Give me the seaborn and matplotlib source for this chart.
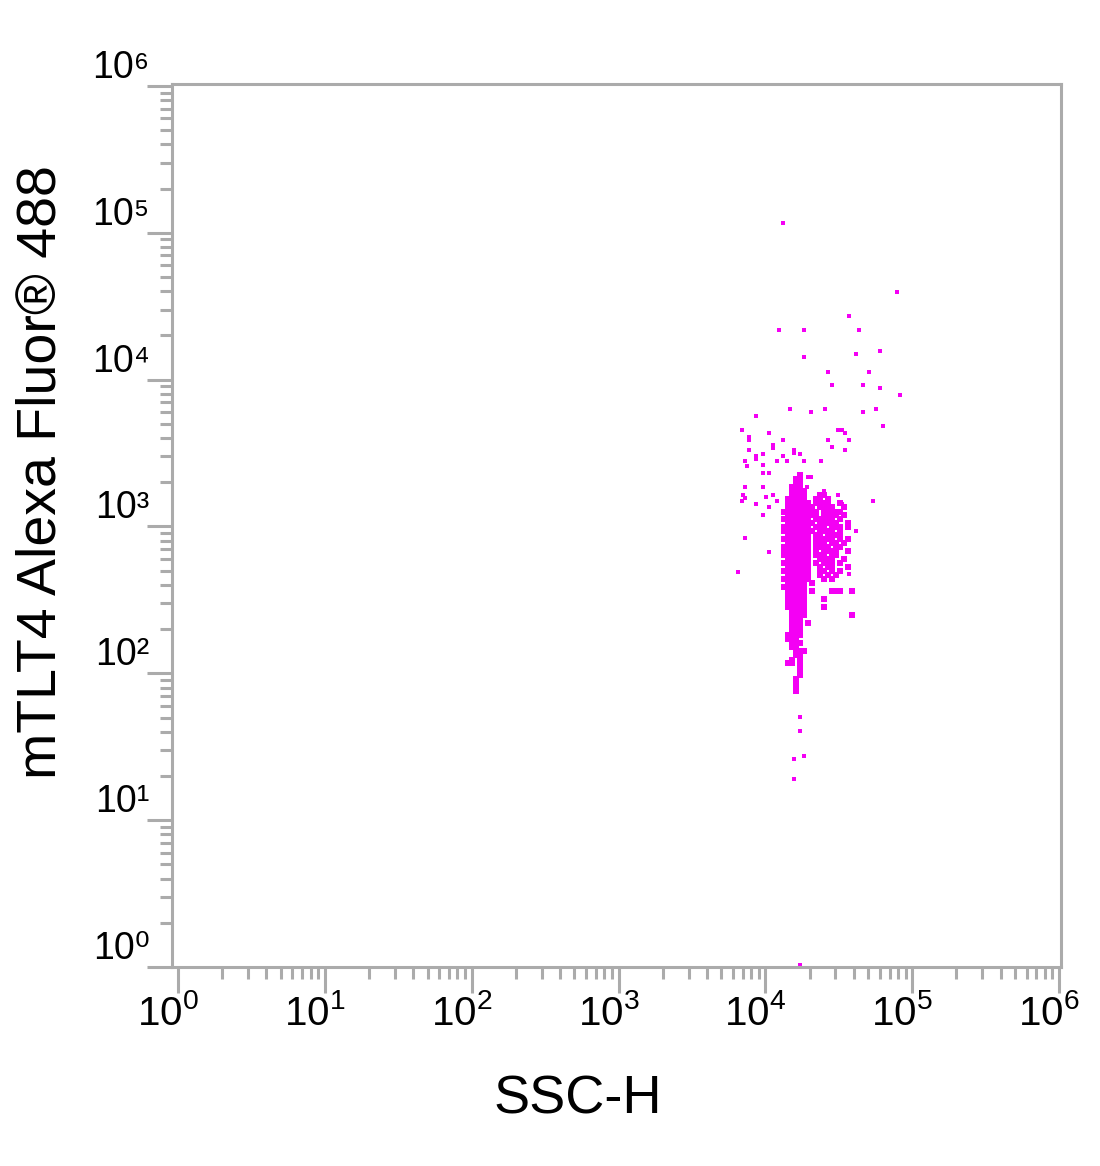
import numpy as np
import pandas as pd
import matplotlib
matplotlib.use('Agg')
import matplotlib.pyplot as plt
from matplotlib.ticker import LogLocator, NullFormatter
from matplotlib.transforms import ScaledTranslation
import seaborn as sns

# scattered single events (SSC-H, mTLT4 AF488)
sparse_ssc = [13220, 79050, 37230, 12420, 18380, 43550, 60530, 18380, 41540, 26780,
              50960, 28510, 46380, 60530, 82830, 14750, 20510, 25530, 46380, 56850,
              8650, 63450, 6950, 10620, 31330, 33350, 34960, 7755, 7755, 13220,
              26780, 37230, 11300, 11300, 28510, 7755, 15710, 15710, 17260, 34960,
              9660, 8650, 8650, 13220, 7280, 12030, 14080, 18380, 23990, 7515,
              9660, 9660, 10620, 19570, 20510, 7280, 9660, 19260, 25150, 31330,
              7060, 10130, 11300, 7280, 6950, 12030, 54240, 33350, 8650, 10620,
              9660, 7280, 10620, 13220, 6530, 41540, 37230, 17260, 17260, 18380,
              15710, 15710, 17260]
sparse_fl = [117000, 39700, 27240, 21880, 21880, 21880, 15750, 14330, 15030, 11330,
             11330, 9245, 9245, 8830, 7910, 6350, 6060, 6350, 6060, 6350,
             5690, 4865, 4570, 4360, 4570, 4570, 4360, 4095, 3908, 3908,
             3908, 3908, 3613, 3446, 3502, 3340, 3340, 3187, 3138, 3340,
             3138, 2995, 2857, 2995, 2812, 2812, 2812, 2812, 2812, 2560,
             2640, 2294, 2294, 2188, 2188, 1842, 1842, 1842, 1730, 1650,
             1650, 1575, 1650, 1550, 1480, 1480, 1480, 1412, 1412, 1346,
             1188, 829, 666, 666, 486, 925, 471, 50.2, 40.3, 27.2,
             26.0, 19.0, 1.03]

# dense population: bin centres and occupied bins ('#' = event)
dense_ssc = [13430, 14300, 15220, 16210, 17260, 18380, 19570, 20840, 22180,
             23620, 25150, 26780, 28510, 30360, 32320, 34420, 36640, 39020]
dense_fl = [2223, 2089, 1963, 1842, 1730, 1625, 1527, 1433, 1346, 1264,
            1188, 1116, 1048, 984, 925, 868, 816, 766, 720, 676,
            635, 597, 560, 526, 494, 464, 436, 410, 385, 361,
            340, 319, 299, 281, 264, 248, 233, 219, 206, 193,
            181, 170, 160, 150, 141, 133, 124, 117, 110, 103,
            97, 91, 85.5, 80.3, 75.4]
dense_rows = [
    "....#.............",
    "...##.............",
    "...##.............",
    "..###.............",
    "..####............",
    "..####...##.......",
    ".#####..##.#......",
    ".######.####..#...",
    ".#######.####..#..",
    "#########.#####...",
    ".########.####.#..",
    "#######.#####.#...",
    ".#######.#####..#.",
    "#######.###.###.#.",
    "########.####.#...",
    ".######.##.####...",
    "#######.#####.#.#.",
    ".######.###.##.#..",
    "#######.####.##...",
    ".######.#.####..#.",
    "#######.###.##....",
    ".######..####..#..",
    "#######.#.###.#...",
    ".######..#.##...#.",
    "#######..##.#.#...",
    ".######..#.#.#....",
    "#######...#.#.....",
    ".#####.#..........",
    "######............",
    ".#####.#....###..#",
    ".#####............",
    ".#####....#.......",
    ".#####............",
    ".#####....#.......",
    "..####............",
    "..####...........#",
    "..###.............",
    "..###.#...........",
    "..###.............",
    "..###.............",
    ".####.............",
    ".###..............",
    "..###.............",
    "..##..............",
    "...###............",
    "...##.............",
    "..#.#.............",
    ".##.#.............",
    "....#.............",
    "....#.............",
    "....#.............",
    "...#..............",
    "...#..............",
    "...#..............",
    "...#..............",
]

x_ticks = [1, 10, 100, 1000, 1e4, 1e5, 1e6]
x_tick_labels = [r'$\mathregular{10^{%d}}$' % i for i in range(7)]
y_ticks = [1, 10, 100, 1000, 1e4, 1e5, 1e6]
y_tick_labels = ['10⁰', '10¹', '10²', '10³', '10⁴', '10⁵', '10⁶']

sparse_df = pd.DataFrame({'SSC-H': sparse_ssc, 'FL': sparse_fl})
d_ssc, d_fl = [], []
for fl, row in zip(dense_fl, dense_rows):
    for ssc, c in zip(dense_ssc, row):
        if c == '#':
            d_ssc.append(ssc)
            d_fl.append(fl)
dense_df = pd.DataFrame({'SSC-H': d_ssc, 'FL': d_fl})

sns.set_style('white')
plt.rcParams['font.family'] = ['Liberation Sans', 'DejaVu Sans']
plt.rcParams['mathtext.fontset'] = 'custom'
plt.rcParams['mathtext.rm'] = 'Liberation Sans'
plt.rcParams['text.color'] = 'black'
plt.rcParams['axes.labelcolor'] = 'black'

fig = plt.figure(figsize=(11, 11.66), dpi=100)
ax = fig.add_axes([172 / 1100, 199 / 1166, 889 / 1100, 883 / 1166])

dot = '#f400f4'
sns.scatterplot(data=sparse_df, x='SSC-H', y='FL', ax=ax, marker='s', s=11,
                color=dot, linewidth=0, legend=False)
sns.scatterplot(data=dense_df, x='SSC-H', y='FL', ax=ax, marker='s', s=16,
                color=dot, linewidth=0, legend=False)
for coll in ax.collections:
    coll.set_antialiased(False)

ax.set_xscale('log')
ax.set_yscale('log')
ax.set_xlim(0.91, 1.03e6)
ax.set_ylim(1.0, 1.03e6)

gray = '#ababab'
for sp in ax.spines.values():
    sp.set_visible(True)
    sp.set_color(gray)
    sp.set_linewidth(2.2)

ax.set_xticks(x_ticks)
ax.set_xticklabels(x_tick_labels, fontsize=29)
ax.set_yticks(y_ticks)
ax.set_yticklabels(y_tick_labels, fontsize=27, va='bottom')
for axis in (ax.xaxis, ax.yaxis):
    axis.set_minor_locator(LogLocator(base=10, subs=range(2, 10), numticks=20))
    axis.set_minor_formatter(NullFormatter())

ax.tick_params(which='major', direction='out', length=18.5, width=2.2, color=gray,
               labelcolor='black', bottom=True, left=True)
ax.tick_params(which='minor', direction='out', length=8.5, width=2.2, color=gray,
               bottom=True, left=True)
ax.tick_params(axis='x', which='major', pad=1)
ax.tick_params(axis='y', which='major', pad=-2, length=18)

shift = ScaledTranslation(-10 / 100, 0, fig.dpi_scale_trans)
for lab in ax.get_xticklabels():
    lab.set_transform(lab.get_transform() + shift)

ax.set_xlabel('SSC-H', fontsize=39, color='black')
ax.set_ylabel('mTLT4 Alexa Fluor® 488', fontsize=40, color='black')
ax.xaxis.set_label_coords(0.4567, -0.122)
ax.yaxis.set_label_coords(-0.118, 0.56)

fig.savefig('out.png', dpi=100, facecolor='white')
